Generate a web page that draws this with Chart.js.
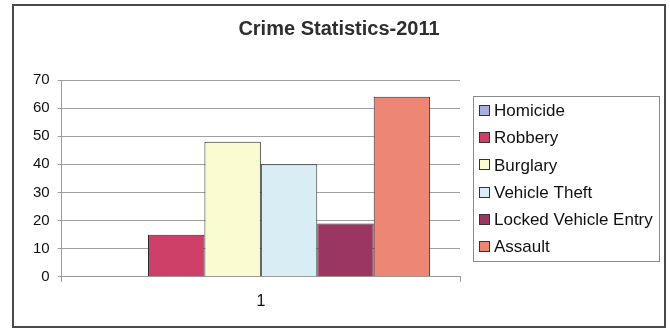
<!DOCTYPE html>
<html>
<head>
<meta charset="utf-8">
<script src="https://cdn.jsdelivr.net/npm/chart.js@4"></script>
<style>
    body { margin: 0; background: #fff; }
    #frame {
        position: absolute;
        left: 12px;
        top: 4px;
        width: 650px;
        height: 320px;
        border: 2px solid #4a4a4a;
        background: #fff;
    }
</style>
</head>
<body>
<div id="frame">
    <canvas id="crimeChart"></canvas>
</div>
<script>
// Data
const categories = ['1']
const seriesNames = ['Homicide', 'Robbery', 'Burglary', 'Vehicle Theft', 'Locked Vehicle Entry', 'Assault']
const seriesValues = [0, 15, 48, 40, 19, 64]
const seriesColors = ['#aab0de', '#cf4068', '#fbfbd2', '#d8edf4', '#9b3660', '#ee8676']

const titleText = 'Crime Statistics-2011'

// one dataset per crime type, like the excel sheet
const datasets = []
for (let i = 0; i < seriesNames.length; i++) {
    datasets.push({
        label: seriesNames[i],
        data: [seriesValues[i]],
        backgroundColor: seriesColors[i],
        borderColor: '#2b2b2b',
        borderWidth: 1,
        categoryPercentage: 0.85,
        barPercentage: 1.0
    })
}

// Excel style boxed legend on the right.
// The built in one gets squeezed to half the width by the layout, so draw it here
// from the datasets instead, in the space kept free by the empty right axis
const legendFont = '17px "Liberation Sans", Arial, sans-serif'
const boxedLegend = {
    id: 'boxedLegend',
    afterDraw(chart) {
        const ctx = chart.ctx
        const area = chart.chartArea
        const sets = chart.data.datasets
        const rowH = 27.2
        const edge = 14.5

        ctx.save()
        ctx.font = legendFont
        let maxW = 0
        sets.forEach(ds => { maxW = Math.max(maxW, ctx.measureText(ds.label).width) })

        const left = Math.round(area.right + 13)
        const boxW = Math.round(21 + maxW + 6)
        const boxH = Math.round(edge * 2 + rowH * (sets.length - 1))
        const top = Math.round((area.top + area.bottom) / 2 - boxH / 2)

        ctx.strokeStyle = '#8a8a8a'
        ctx.lineWidth = 1
        ctx.strokeRect(left + 0.5, top + 0.5, boxW, boxH)

        ctx.textBaseline = 'middle'
        ctx.textAlign = 'left'
        sets.forEach((ds, i) => {
            const cy = top + edge + rowH * i
            const sx = left + 6
            const sy = Math.round(cy - 5.5)
            ctx.fillStyle = ds.backgroundColor
            ctx.fillRect(sx, sy, 11, 11)
            ctx.strokeStyle = '#333'
            ctx.strokeRect(sx + 0.5, sy + 0.5, 10, 10)
            ctx.fillStyle = '#111'
            ctx.fillText(ds.label, left + 21, cy + 1)
        })
        ctx.restore()
    }
}

const config = {
    type: 'bar',
    data: {
        labels: categories,
        datasets: datasets
    },
    options: {
        responsive: true,
        maintainAspectRatio: false,
        animation: false,
        layout: {
            padding: { left: 11, right: 11, top: 0, bottom: 5 }
        },
        plugins: {
            title: {
                display: true,
                text: titleText,
                color: '#2e2e2e',
                font: { family: 'Liberation Sans', size: 20, weight: 'bold' },
                padding: { top: 11, bottom: 39 }
            },
            legend: { display: false },
            tooltip: { enabled: false }
        },
        scales: {
            x: {
                grid: {
                    offset: true,
                    drawOnChartArea: false,
                    color: '#999',
                    tickLength: 5
                },
                border: { color: '#999' },
                ticks: {
                    color: '#111',
                    font: { family: 'Liberation Sans', size: 16 },
                    padding: 10
                }
            },
            y: {
                min: 0,
                max: 70,
                grid: {
                    color: '#a0a0a0',
                    tickLength: 4
                },
                border: { color: '#999' },
                ticks: {
                    stepSize: 10,
                    color: '#111',
                    font: { family: 'Liberation Sans', size: 15 },
                    padding: 8
                }
            },
            // empty axis, only there to keep room for the legend box
            // (so the title still centres on the whole chart)
            legendSpace: {
                position: 'right',
                grid: { display: false },
                border: { display: false },
                ticks: { display: false },
                afterFit(scale) {
                    scale.width = 193
                }
            }
        }
    },
    plugins: [boxedLegend]
}

const myChart = new Chart(document.getElementById('crimeChart'), config)
</script>
</body>
</html>
